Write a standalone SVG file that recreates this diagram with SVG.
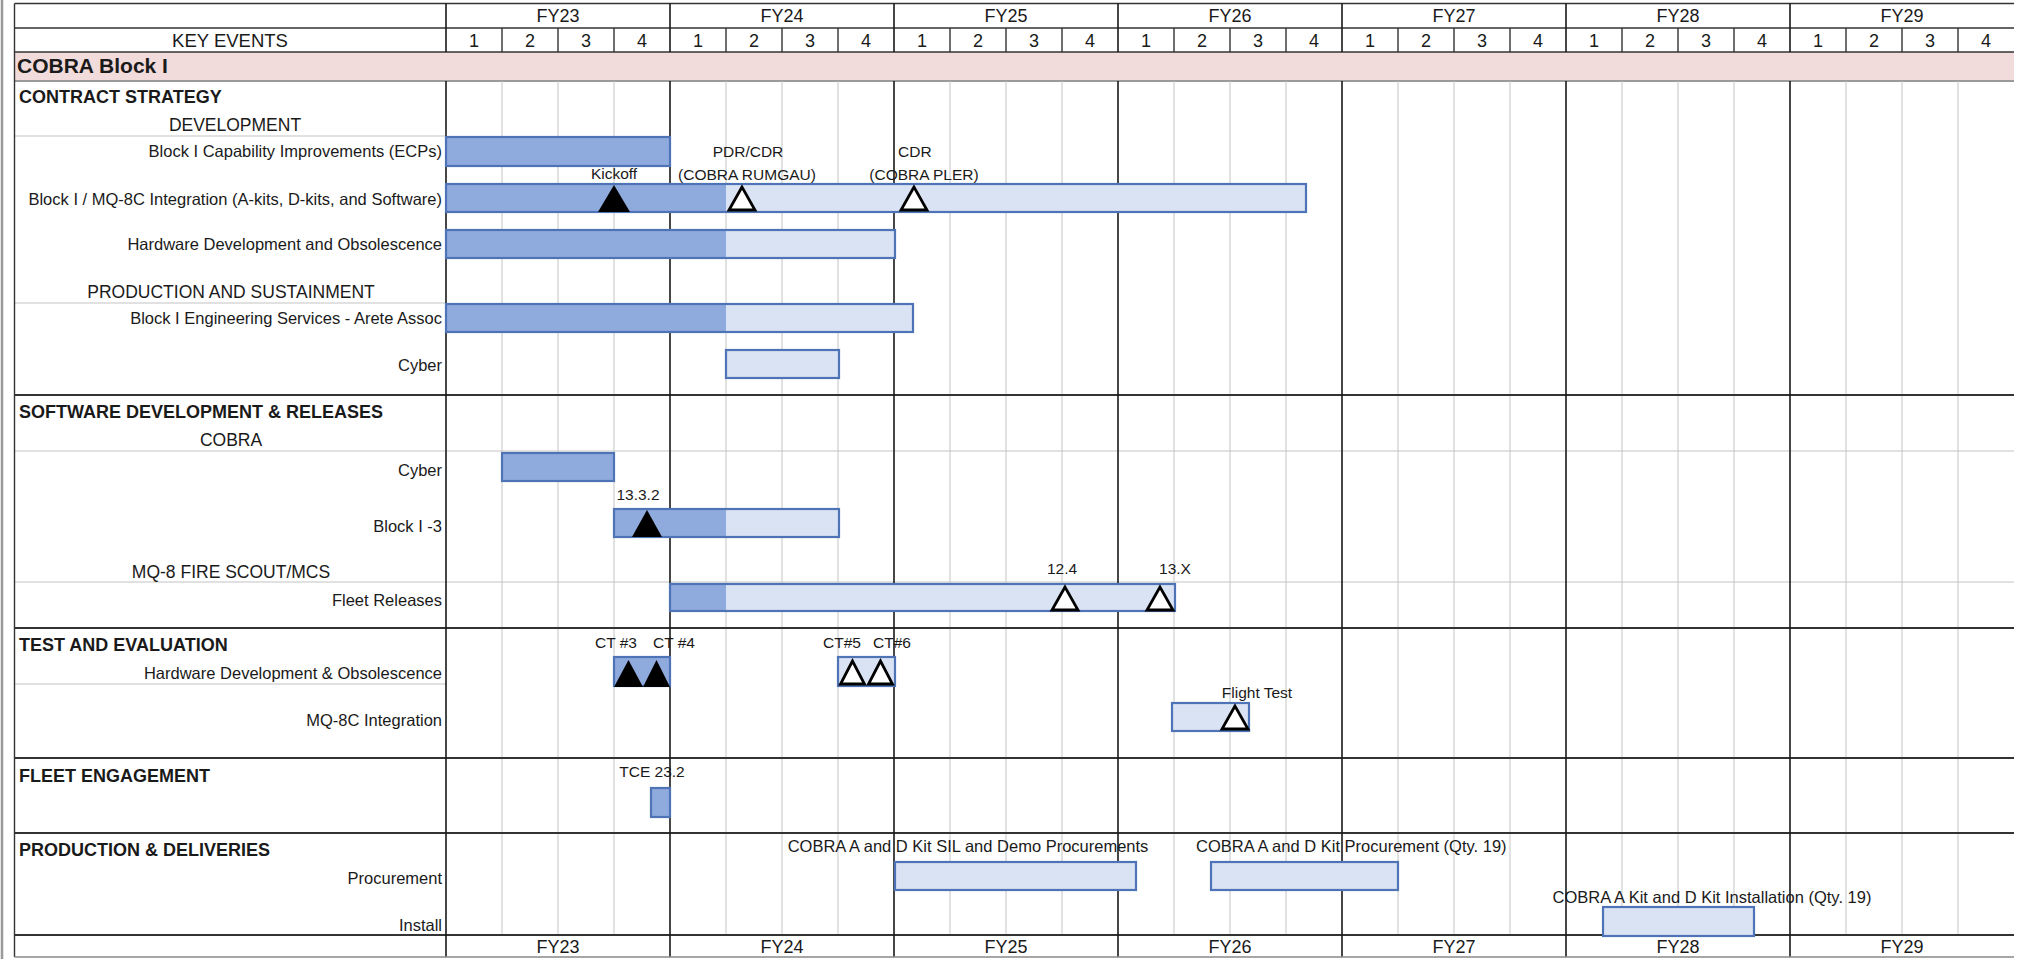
<svg xmlns="http://www.w3.org/2000/svg" width="2017" height="959" viewBox="0 0 2017 959">
<style>
text { font-family: 'Liberation Sans', Arial, sans-serif; fill: #1a1a1a; }
.fy { font-size: 18px; text-anchor: middle; }
.q { font-size: 18px; text-anchor: middle; }
.lbl { font-size: 16.5px; text-anchor: end; }
.sec { font-size: 18px; font-weight: bold; }
.sub { font-size: 17.5px; text-anchor: middle; }
.ms { font-size: 15.5px; text-anchor: middle; }
.mss { font-size: 15.5px; }
.gq { stroke: #c4c4c4; stroke-width: 1; fill: none; }
.gfy { stroke: #1a1a1a; stroke-width: 1.6; fill: none; }
.hl { stroke: #c4c4c4; stroke-width: 1.2; fill: none; }
.sl { stroke: #333; stroke-width: 2; fill: none; }
.hd { stroke: #333; stroke-width: 1.4; fill: none; }
.dk { fill: #8FAADC; }
.lt { fill: #DAE3F3; }
.bo { fill: none; stroke: #4E73B6; stroke-width: 2.2; }
.tf { fill: #000; }
.to { fill: #fff; stroke: #000; stroke-width: 2.8; }
</style>

<g id="frame">
  <rect x="0" y="0" width="2017" height="959" fill="#fff"/>
  <line x1="2" y1="0" x2="2" y2="959" stroke="#999" stroke-width="2.5"/>
  <rect x="14.5" y="52" width="1999.5" height="29" fill="#F2DCDB"/>
  <line x1="14.5" y1="81" x2="2014" y2="81" stroke="#9a9a9a" stroke-width="2"/>
  <line x1="14.5" y1="3.5" x2="2014" y2="3.5" class="hd"/>
  <line x1="14.5" y1="28" x2="2014" y2="28" class="hd"/>
  <line x1="14.5" y1="52" x2="2014" y2="52" class="hd"/>
  <path class="hd" d="M502 28V52M558 28V52M614 28V52M726 28V52M782 28V52M838 28V52M950 28V52M1006 28V52M1062 28V52M1174 28V52M1230 28V52M1286 28V52M1398 28V52M1454 28V52M1510 28V52M1622 28V52M1678 28V52M1734 28V52M1846 28V52M1902 28V52M1958 28V52"/>
  <path class="gfy" d="M446 3.5V52M670 3.5V52M894 3.5V52M1118 3.5V52M1342 3.5V52M1566 3.5V52M1790 3.5V52"/>
  <path class="gq" d="M502 81V935M558 81V935M614 81V935M726 81V935M782 81V935M838 81V935M950 81V935M1006 81V935M1062 81V935M1174 81V935M1230 81V935M1286 81V935M1398 81V935M1454 81V935M1510 81V935M1622 81V935M1678 81V935M1734 81V935M1846 81V935M1902 81V935M1958 81V935"/>
  <path class="hl" d="M14.5 136H446M14.5 303H446M14.5 451H2014M14.5 582H2014M14.5 684H446"/>
  <path class="sl" d="M14.5 395H2014M14.5 628H2014M14.5 758H2014M14.5 833H2014M14.5 935H2014"/>
  <path class="gfy" d="M446 81V957M670 81V957M894 81V957M1118 81V957M1342 81V957M1566 81V957M1790 81V957"/>
  <line x1="14.5" y1="3.5" x2="14.5" y2="957" class="hd"/>
  <line x1="14.5" y1="957" x2="2014" y2="957" stroke="#888" stroke-width="1.5"/>
</g>

<g id="header">
  <text class="fy" x="558" y="22">FY23</text>
  <text class="fy" x="782" y="22">FY24</text>
  <text class="fy" x="1006" y="22">FY25</text>
  <text class="fy" x="1230" y="22">FY26</text>
  <text class="fy" x="1454" y="22">FY27</text>
  <text class="fy" x="1678" y="22">FY28</text>
  <text class="fy" x="1902" y="22">FY29</text>
  <text class="q" x="230" y="46.5" style="font-size:18.5px">KEY EVENTS</text>
  <text class="q" x="474" y="46.5">1</text><text class="q" x="530" y="46.5">2</text><text class="q" x="586" y="46.5">3</text><text class="q" x="642" y="46.5">4</text>
  <text class="q" x="698" y="46.5">1</text><text class="q" x="754" y="46.5">2</text><text class="q" x="810" y="46.5">3</text><text class="q" x="866" y="46.5">4</text>
  <text class="q" x="922" y="46.5">1</text><text class="q" x="978" y="46.5">2</text><text class="q" x="1034" y="46.5">3</text><text class="q" x="1090" y="46.5">4</text>
  <text class="q" x="1146" y="46.5">1</text><text class="q" x="1202" y="46.5">2</text><text class="q" x="1258" y="46.5">3</text><text class="q" x="1314" y="46.5">4</text>
  <text class="q" x="1370" y="46.5">1</text><text class="q" x="1426" y="46.5">2</text><text class="q" x="1482" y="46.5">3</text><text class="q" x="1538" y="46.5">4</text>
  <text class="q" x="1594" y="46.5">1</text><text class="q" x="1650" y="46.5">2</text><text class="q" x="1706" y="46.5">3</text><text class="q" x="1762" y="46.5">4</text>
  <text class="q" x="1818" y="46.5">1</text><text class="q" x="1874" y="46.5">2</text><text class="q" x="1930" y="46.5">3</text><text class="q" x="1986" y="46.5">4</text>
  <text class="sec" x="17" y="73" style="font-size:21px">COBRA Block I</text>
  <text class="fy" x="558" y="953">FY23</text>
  <text class="fy" x="782" y="953">FY24</text>
  <text class="fy" x="1006" y="953">FY25</text>
  <text class="fy" x="1230" y="953">FY26</text>
  <text class="fy" x="1454" y="953">FY27</text>
  <text class="fy" x="1678" y="953">FY28</text>
  <text class="fy" x="1902" y="953">FY29</text>
</g>

<g id="row-labels">
  <text class="sec" x="19" y="103">CONTRACT STRATEGY</text>
  <text class="sub" x="235" y="131">DEVELOPMENT</text>
  <text class="lbl" x="442" y="157">Block I Capability Improvements (ECPs)</text>
  <text class="lbl" x="442" y="205">Block I / MQ-8C Integration (A-kits, D-kits, and Software)</text>
  <text class="lbl" x="442" y="250">Hardware Development and Obsolescence</text>
  <text class="sub" x="231" y="298">PRODUCTION AND SUSTAINMENT</text>
  <text class="lbl" x="442" y="324">Block I Engineering Services - Arete Assoc</text>
  <text class="lbl" x="442" y="371">Cyber</text>
  <text class="sec" x="19" y="418">SOFTWARE DEVELOPMENT &amp; RELEASES</text>
  <text class="sub" x="231" y="446">COBRA</text>
  <text class="lbl" x="442" y="476">Cyber</text>
  <text class="lbl" x="442" y="532">Block I -3</text>
  <text class="sub" x="231" y="578">MQ-8 FIRE SCOUT/MCS</text>
  <text class="lbl" x="442" y="606">Fleet Releases</text>
  <text class="sec" x="19" y="651">TEST AND EVALUATION</text>
  <text class="lbl" x="442" y="679">Hardware Development &amp; Obsolescence</text>
  <text class="lbl" x="442" y="726">MQ-8C Integration</text>
  <text class="sec" x="19" y="782">FLEET ENGAGEMENT</text>
  <text class="sec" x="19" y="856">PRODUCTION &amp; DELIVERIES</text>
  <text class="lbl" x="442" y="884">Procurement</text>
  <text class="lbl" x="442" y="931">Install</text>
</g>

<g id="bar-ecp">
  <rect class="dk" x="446" y="137" width="224" height="29"/>
  <rect class="bo" x="446" y="137" width="224" height="29"/>
</g>
<g id="bar-integration">
  <rect class="dk" x="446" y="184" width="280" height="28"/>
  <rect class="lt" x="726" y="184" width="580" height="28"/>
  <rect class="bo" x="446" y="184" width="860" height="28"/>
  <polygon class="tf" points="614,185 598,212 630,212"/>
  <polygon class="to" points="742,187 729,210 755,210"/>
  <polygon class="to" points="914,187 901,210 927,210"/>
  <text class="ms" x="614" y="178.5">Kickoff</text>
  <text class="ms" x="748" y="157">PDR/CDR</text>
  <text class="ms" x="747" y="180">(COBRA RUMGAU)</text>
  <text class="mss" x="898" y="157">CDR</text>
  <text class="ms" x="924" y="180">(COBRA PLER)</text>
</g>
<g id="bar-hw-dev">
  <rect class="dk" x="446" y="230" width="280" height="28"/>
  <rect class="lt" x="726" y="230" width="169" height="28"/>
  <rect class="bo" x="446" y="230" width="449" height="28"/>
</g>
<g id="bar-eng-services">
  <rect class="dk" x="446" y="304" width="280" height="28"/>
  <rect class="lt" x="726" y="304" width="187" height="28"/>
  <rect class="bo" x="446" y="304" width="467" height="28"/>
</g>
<g id="bar-cyber-prod">
  <rect class="lt" x="726" y="350" width="113" height="28"/>
  <rect class="bo" x="726" y="350" width="113" height="28"/>
</g>
<g id="bar-cyber-sw">
  <rect class="dk" x="502" y="453" width="112" height="28"/>
  <rect class="bo" x="502" y="453" width="112" height="28"/>
</g>
<g id="bar-block-i-3">
  <rect class="dk" x="614" y="509" width="112" height="28"/>
  <rect class="lt" x="726" y="509" width="113" height="28"/>
  <rect class="bo" x="614" y="509" width="225" height="28"/>
  <polygon class="tf" points="647,510 632,537 662,537"/>
  <text class="ms" x="638" y="500">13.3.2</text>
</g>
<g id="bar-fleet-releases">
  <rect class="dk" x="670" y="584" width="56" height="27"/>
  <rect class="lt" x="726" y="584" width="449" height="27"/>
  <rect class="bo" x="670" y="584" width="505" height="27"/>
  <polygon class="to" points="1065,587 1052,610 1078,610"/>
  <polygon class="to" points="1160,587 1147,610 1173,610"/>
  <text class="ms" x="1062" y="574">12.4</text>
  <text class="ms" x="1175" y="574">13.X</text>
</g>
<g id="te-hw-dev">
  <rect class="dk" x="614" y="657" width="56" height="29"/>
  <rect class="bo" x="614" y="657" width="56" height="29"/>
  <polygon class="tf" points="628.5,660 614,687 643,687"/>
  <polygon class="tf" points="656.5,660 643,687 670,687"/>
  <text class="ms" x="616" y="648">CT #3</text>
  <text class="ms" x="674" y="648">CT #4</text>
</g>
<g id="te-ct56">
  <rect class="lt" x="838" y="657" width="57" height="29"/>
  <rect class="bo" x="838" y="657" width="57" height="29"/>
  <polygon class="to" points="852.5,661 840.5,684 864.5,684"/>
  <polygon class="to" points="880.5,661 868.5,684 892.5,684"/>
  <text class="ms" x="842" y="648">CT#5</text>
  <text class="ms" x="892" y="648">CT#6</text>
</g>
<g id="te-mq8c">
  <rect class="lt" x="1172" y="703" width="77" height="28"/>
  <rect class="bo" x="1172" y="703" width="77" height="28"/>
  <polygon class="to" points="1235,706 1222,729 1248,729"/>
  <text class="ms" x="1257" y="698">Flight Test</text>
</g>
<g id="tce">
  <rect class="dk" x="651" y="788" width="19" height="29"/>
  <rect class="bo" x="651" y="788" width="19" height="29"/>
  <text class="ms" x="652" y="777">TCE 23.2</text>
</g>
<g id="procurement-1">
  <rect class="lt" x="895" y="862" width="241" height="28"/>
  <rect class="bo" x="895" y="862" width="241" height="28"/>
  <text class="ms" x="968" y="852" style="font-size:16.5px">COBRA A and D Kit SIL and Demo Procurements</text>
</g>
<g id="procurement-2">
  <rect class="lt" x="1211" y="862" width="187" height="28"/>
  <rect class="bo" x="1211" y="862" width="187" height="28"/>
  <text class="mss" x="1196" y="852" style="font-size:16.5px">COBRA A and D Kit Procurement (Qty. 19)</text>
</g>
<g id="install">
  <rect class="lt" x="1603" y="907" width="151" height="29"/>
  <rect class="bo" x="1603" y="907" width="151" height="29"/>
  <text class="ms" x="1712" y="903" style="font-size:16.5px">COBRA A Kit and D Kit Installation (Qty. 19)</text>
</g>
<g id="connectors"></g>
</svg>
